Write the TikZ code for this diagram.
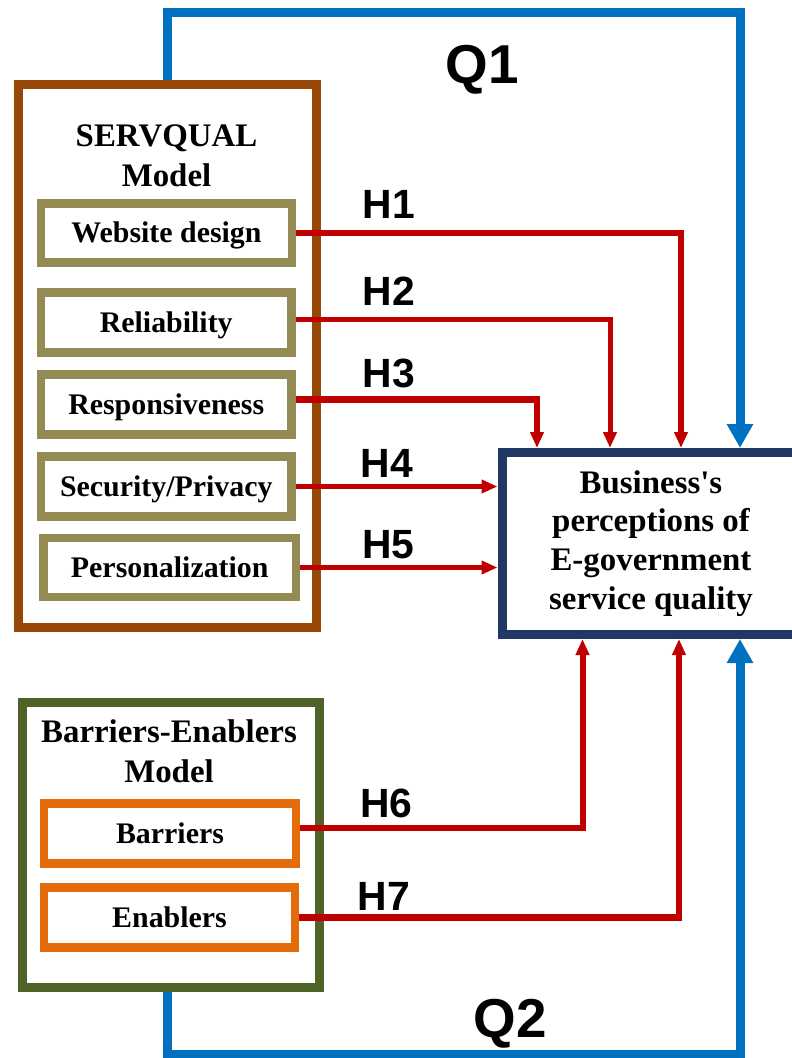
\documentclass[tikz,border=0pt]{standalone}
\usepackage{fontspec}
\setmainfont{Liberation Serif}
\newfontfamily\labelfont{Liberation Sans}
\usetikzlibrary{arrows.meta}

\definecolor{servbrown}{RGB}{151,71,6}
\definecolor{itemolive}{RGB}{148,138,84}
\definecolor{modelgreen}{RGB}{79,98,40}
\definecolor{itemorange}{RGB}{227,108,10}
\definecolor{busnavy}{RGB}{31,56,100}
\definecolor{hypred}{RGB}{192,0,0}
\definecolor{qblue}{RGB}{0,112,192}

\begin{document}
\begin{tikzpicture}[x=1bp,y=-1bp,
  model/.style={draw, line width=9bp, inner sep=0pt},
  title/.style={align=center, inner sep=0pt,
    font=\bfseries\fontsize{33}{40}\selectfont},
  item/.style={draw, fill=white, line width=8.5bp, inner sep=0pt,
    minimum height=59bp, text height=20bp, text depth=0pt,
    font=\bfseries\fontsize{30}{36}\selectfont},
  hyp/.style={draw=hypred, line width=5.5bp,
    -{Triangle[length=16bp,width=13bp]}},
  qline/.style={draw=qblue, line width=9bp,
    -{Triangle[length=24bp,width=25bp]}},
  hlabel/.style={anchor=base, inner sep=0pt,
    font=\labelfont\bfseries\fontsize{41}{41}\selectfont},
  qlabel/.style={anchor=base, inner sep=0pt,
    font=\labelfont\bfseries\fontsize{55}{55}\selectfont}]

\useasboundingbox (0,0) rectangle (792,1058);

% SERVQUAL model and its dimensions
\node[model, draw=servbrown, minimum width=297bp, minimum height=542bp]
  (servq) at (167.5,356) {};
\node[title] (servqtitle) at (166.5,156) {SERVQUAL\\Model};
\node[item, draw=itemolive, minimum width=251bp] (web) at (166.5,232.75) {Website design};
\node[item, draw=itemolive, minimum width=250.5bp, minimum height=60bp] (rel) at (166.25,322.5) {Reliability};
\node[item, draw=itemolive, minimum width=250.5bp, minimum height=60bp] (resp) at (166.25,404.5) {Responsiveness};
\node[item, draw=itemolive, minimum width=250.5bp, minimum height=60bp] (sec) at (166.25,486.5) {Security/Privacy};
\node[item, draw=itemolive, minimum width=252.5bp] (pers) at (169.75,567.5) {Personalization};

% Barriers-Enablers model
\node[model, draw=modelgreen, minimum width=296.5bp, minimum height=285.5bp]
  (be) at (171.25,844.75) {};
\node[title] (betitle) at (169,751.5) {Barriers-Enablers\\Model};
\node[item, draw=itemorange, minimum width=252bp, minimum height=60bp] (barr) at (170,833.5) {Barriers};
\node[item, draw=itemorange, minimum width=251bp, minimum height=60bp] (enab) at (169.5,917.5) {Enablers};

% Outcome construct
\node[model, draw=busnavy, fill=white, minimum width=298bp, minimum height=182bp,
  align=center, font=\bfseries\fontsize{33}{39}\selectfont]
  (bus) at (651,543.5) {Business\textquotesingle s\\perceptions of\\E-government\\service quality};

% Bend points of the connectors
\coordinate (h1x) at (681,0);
\coordinate (h2x) at (610,0);
\coordinate (h3x) at (537,0);
\coordinate (h6x) at (582.5,0);
\coordinate (h7x) at (679,0);
\coordinate (q1top) at (740,12.5);
\coordinate (q2bot) at (740,1054);

% Hypotheses
\draw[hyp, line width=6bp] (web.east) -| (h1x |- bus.north);
\draw[hyp, line width=5bp] ([yshift=3.5bp]rel.east) -| (h2x |- bus.north);
\draw[hyp, line width=6.5bp] ([yshift=5bp]resp.east) -| (h3x |- bus.north);
\draw[hyp, line width=4.5bp] (sec.east) -- (sec.east -| bus.west);
\draw[hyp, line width=4.5bp] (pers.east) -- (pers.east -| bus.west);
\draw[hyp, line width=6bp] ([yshift=5.5bp]barr.east) -| (h6x |- bus.south);
\draw[hyp, line width=6.5bp] (enab.east) -| (h7x |- bus.south);

% Research questions
\draw[qline] (servq.north) |- (q1top) -- (q1top |- bus.north);
\draw[qline] ([xshift=-4bp]be.south) |- (q2bot) -- (q2bot |- bus.south);

% Labels
\node[hlabel] (l1) at (389,218) {H1};
\node[hlabel] (l2) at (389,305) {H2};
\node[hlabel] (l3) at (389,387) {H3};
\node[hlabel] (l4) at (387,477) {H4};
\node[hlabel] (l5) at (388.5,558) {H5};
\node[hlabel] (l6) at (386.5,817) {H6};
\node[hlabel] (l7) at (384,910) {H7};
\node[qlabel] (lq1) at (482.5,83.5) {Q1};
\node[qlabel] (lq2) at (510,1037) {Q2};

\end{tikzpicture}
\end{document}
